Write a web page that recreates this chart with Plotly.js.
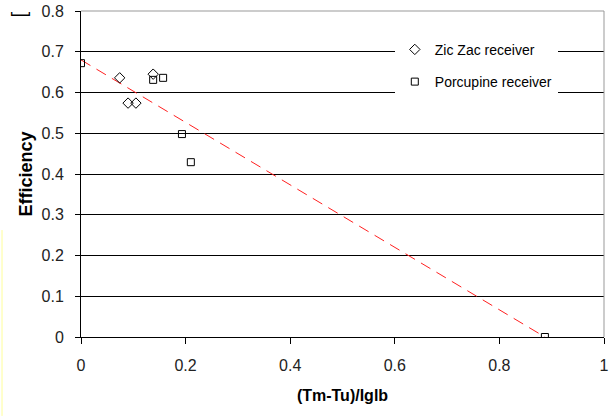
<!DOCTYPE html>
<html><head><meta charset="utf-8">
<script src="https://cdn.plot.ly/plotly-3.0.1.min.js"></script>
<style>html,body{margin:0;padding:0;background:#fff;}#chart{width:609px;height:416px;}</style>
</head><body><div id="chart"></div>
<script>
const zicX = [0.074, 0.090, 0.105, 0.138];
const zicY = [0.636, 0.574, 0.574, 0.645];
const porcX = [0.0, 0.138, 0.157, 0.193, 0.210, 0.887];
const porcY = [0.672, 0.631, 0.636, 0.498, 0.429, 0.0];
const trendX = [0.0, 0.887];
const trendY = [0.680, 0.0];
const xTicks = [0, 0.2, 0.4, 0.6, 0.8, 1];
const xTickText = ['0', '0.2', '0.4', '0.6', '0.8', '1'];
const yTicks = [0, 0.1, 0.2, 0.3, 0.4, 0.5, 0.6, 0.7, 0.8];
const yTickText = ['0', '0.1', '0.2', '0.3', '0.4', '0.5', '0.6', '0.7', '0.8'];

const font = '"Liberation Sans", Arial, sans-serif';
const traces = [
  {x: trendX, y: trendY, mode: 'lines', showlegend: false, hoverinfo: 'skip',
   line: {color: '#ff2020', width: 1, dash: '11px,7px'}},
  {x: zicX, y: zicY, mode: 'markers', name: 'Zic Zac receiver', legendgroup: 'a',
   marker: {symbol: 'diamond-open', size: 8, color: '#000', line: {width: 1, color: '#000'}}},
  {x: porcX, y: porcY, mode: 'markers', name: 'Porcupine receiver', legendgroup: 'b',
   marker: {symbol: 'square-open', size: 7, color: '#000', line: {width: 1, color: '#000'}}}
];
const layout = {
  width: 609, height: 416,
  margin: {l: 81, r: 5, t: 11, b: 79},
  paper_bgcolor: '#fff', plot_bgcolor: '#fff',
  font: {family: font, size: 16, color: '#222'},
  xaxis: {range: [0, 1], tickvals: xTicks, ticktext: xTickText, showgrid: false, zeroline: false,
    showline: true, linecolor: '#000', linewidth: 1, ticks: 'outside', ticklen: 6, tickcolor: '#000',
    ticklabelstandoff: 8, ticklabeloverflow: 'allow',
    tickfont: {family: font, size: 16, color: '#222'},
    title: {text: '<b>(Tm-Tu)/Iglb</b>', font: {family: font, size: 16, color: '#000'}, standoff: 16}},
  yaxis: {range: [0, 0.8], tickvals: yTicks, ticktext: yTickText, showgrid: true, gridcolor: '#000', gridwidth: 1,
    zeroline: false, showline: true, linecolor: '#000', linewidth: 1, ticks: 'outside', ticklen: 5, tickcolor: '#000',
    ticklabelstandoff: 8, ticklabeloverflow: 'allow',
    tickfont: {family: font, size: 16, color: '#222'},
    title: {text: '<b>Efficiency</b>', font: {family: font, size: 18, color: '#000'}, standoff: 4}},
  legend: {x: 0.6, y: 0.93, xanchor: 'left', yanchor: 'top', bgcolor: '#fff', borderwidth: 0,
    font: {family: font, size: 14, color: '#000'}, tracegroupgap: 11, itemwidth: 30},
  shapes: [
    {type: 'line', xref: 'paper', yref: 'paper', x0: 0, x1: 1, y0: 1, y1: 1, line: {color: '#999', width: 1}},
    {type: 'line', xref: 'paper', yref: 'paper', x0: 1, x1: 1, y0: 0, y1: 1, line: {color: '#999', width: 1}},
    {type: 'line', xref: 'paper', yref: 'paper', x0: -0.151, x1: -0.151, y0: -0.242, y1: 0.328, line: {color: '#ffff99', width: 1}}
  ],
  annotations: [
    {text: '[', xref: 'paper', yref: 'paper', x: -0.118, y: 0.99, xanchor: 'center', yanchor: 'middle',
     showarrow: false, textangle: -90, font: {family: font, size: 20, color: '#000'}}
  ]
};
Plotly.newPlot('chart', traces, layout, {displayModeBar: false});
</script></body></html>
